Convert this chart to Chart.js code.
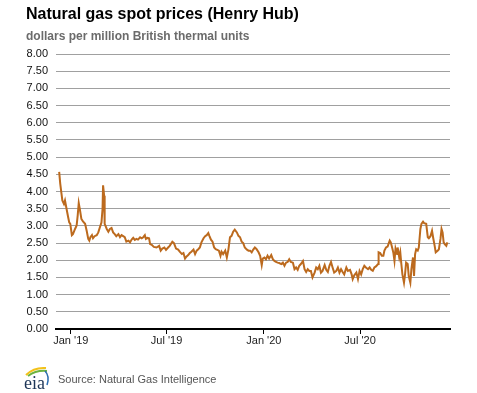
<!DOCTYPE html>
<html>
<head>
<meta charset="utf-8">
<script src="https://cdn.jsdelivr.net/npm/chart.js@4.4.0/dist/chart.umd.min.js"></script>
<style>
  html, body { margin: 0; padding: 0; background: #fff; }
  #wrap { position: relative; width: 477px; height: 393px; overflow: hidden; font-family: "Liberation Sans", Arial, sans-serif; }
  #priceChart { position: absolute; left: 0; top: 0; }
  .title { position: absolute; left: 26px; top: 5px; font-size: 16px; font-weight: bold; color: #000; white-space: nowrap; }
  .subtitle { position: absolute; left: 26px; top: 29px; font-size: 12px; font-weight: bold; color: #6b6b6b; white-space: nowrap; }
  .source { position: absolute; left: 58px; top: 373px; font-size: 11px; color: #555; white-space: nowrap; }
  .logo { position: absolute; left: 22px; top: 363px; }
</style>
</head>
<body>
<div id="wrap">
  <canvas id="priceChart" width="477" height="393"></canvas>
  <div class="title">Natural gas spot prices (Henry Hub)</div>
  <div class="subtitle">dollars per million British thermal units</div>
  <svg class="logo" width="30" height="30" viewBox="0 0 30 30">
    <path d="M4 12 Q12 4 24 5" stroke="#f2c21b" stroke-width="2" fill="none"/>
    <path d="M6 13 Q14 7 25 8" stroke="#6cb33f" stroke-width="2" fill="none"/>
    <path d="M23 8 Q28 13 25 22" stroke="#2b6cb0" stroke-width="1.5" fill="none"/>
    <text x="2" y="26" font-family="'Liberation Serif', 'DejaVu Serif', serif" font-size="18" fill="#1d3557">eia</text>
  </svg>
  <div class="source">Source: Natural Gas Intelligence</div>
</div>
<script>
// days counted from Jan 1 2019 (negative = Dec 2018)
const days = [
  -22, -20, -18, -16, -13, -11, -8, -5, -3, -1, 2, 4, 8, 11, 13, 15, 17, 20, 23, 27,
  30, 33, 35, 37, 40, 42, 45, 49, 52, 55, 58, 60, 61, 63, 64, 68, 71, 74, 77, 80,
  83, 86, 90, 93, 96, 99, 102, 105, 109, 112, 115, 118, 121, 124, 127, 131, 134, 137, 140, 142,
  145, 148, 150, 153, 157, 162, 167, 170, 173, 177, 180, 184, 187, 192, 195, 199, 203, 206, 210, 213,
  216, 219, 222, 225, 228, 232, 235, 238, 241, 244, 247, 251, 254, 257, 260, 262, 265, 268, 271, 274,
  277, 280, 283, 285, 288, 292, 295, 298, 301, 304, 307, 310, 314, 317, 320, 323, 326, 329, 333, 336,
  339, 342, 345, 348, 351, 355, 358, 361, 363, 366, 369, 372, 375, 379, 382, 385, 388, 391, 394, 398,
  401, 404, 407, 410, 413, 416, 420, 423, 426, 429, 432, 435, 439, 442, 445, 448, 451, 454, 457, 461,
  464, 467, 470, 473, 476, 480, 483, 486, 489, 492, 495, 498, 502, 505, 508, 511, 514, 517, 521, 524,
  528, 531, 533, 536, 540, 543, 546, 549, 552, 555, 558, 562, 565, 568, 571, 574, 577, 581, 582, 585,
  588, 591, 593, 596, 599, 603, 605, 608, 610, 612, 614, 617, 618, 621, 623, 625, 627, 630, 632, 634,
  637, 639, 642, 644, 647, 649, 651, 653, 656, 658, 661, 663, 666, 668, 672, 675, 677, 680, 683, 685,
  688, 690, 694, 696, 699, 701, 703, 705, 707, 710, 712
];
const prices = [
  4.57, 4.23, 3.98, 3.74, 3.64, 3.74, 3.49, 3.25, 3.10, 3.06, 2.73, 2.76, 2.91, 3.01, 3.30, 3.66, 3.49, 3.20, 3.13, 3.06,
  2.86, 2.62, 2.57, 2.67, 2.73, 2.64, 2.70, 2.73, 2.81, 2.96, 3.10, 3.49, 4.18, 3.88, 3.06, 2.91, 2.83, 2.91, 2.94, 2.81,
  2.76, 2.70, 2.76, 2.67, 2.73, 2.70, 2.67, 2.54, 2.57, 2.52, 2.60, 2.65, 2.59, 2.62, 2.60, 2.67, 2.64, 2.67, 2.73, 2.62,
  2.65, 2.64, 2.47, 2.45, 2.39, 2.37, 2.42, 2.28, 2.34, 2.37, 2.30, 2.37, 2.42, 2.54, 2.50, 2.34, 2.31, 2.25, 2.18, 2.21,
  2.05, 2.11, 2.15, 2.21, 2.25, 2.31, 2.18, 2.28, 2.32, 2.37, 2.52, 2.64, 2.70, 2.73, 2.79, 2.71, 2.60, 2.54, 2.37, 2.32,
  2.30, 2.28, 2.13, 2.25, 2.18, 2.28, 2.08, 2.31, 2.67, 2.71, 2.83, 2.89, 2.81, 2.71, 2.67, 2.54, 2.50, 2.37, 2.31, 2.28,
  2.28, 2.23, 2.31, 2.37, 2.33, 2.23, 2.13, 1.86, 2.05, 2.08, 2.03, 2.13, 2.05, 2.15, 2.03, 1.98, 1.95, 1.93, 1.92, 1.89,
  1.93, 1.84, 1.93, 1.95, 2.03, 1.95, 1.93, 1.74, 1.79, 1.72, 1.84, 1.89, 1.98, 1.74, 1.66, 1.74, 1.69, 1.69, 1.50, 1.64,
  1.79, 1.74, 1.84, 1.64, 1.69, 1.86, 1.72, 1.66, 1.84, 1.95, 1.79, 1.64, 1.69, 1.79, 1.64, 1.74, 1.66, 1.59, 1.79, 1.69,
  1.72, 1.59, 1.45, 1.56, 1.64, 1.45, 1.69, 1.59, 1.74, 1.84, 1.79, 1.74, 1.79, 1.72, 1.69, 1.79, 1.82, 1.89, 2.23, 2.21,
  2.13, 2.13, 2.28, 2.37, 2.40, 2.57, 2.52, 2.34, 2.21, 1.98, 2.34, 2.18, 2.37, 2.08, 2.23, 1.89, 1.59, 1.35, 1.59, 1.93,
  1.89, 1.54, 1.35, 1.74, 2.08, 1.54, 2.18, 2.32, 2.28, 2.37, 2.91, 3.06, 3.12, 3.08, 3.06, 2.67, 2.64, 2.70, 2.86, 2.67,
  2.42, 2.23, 2.28, 2.32, 2.62, 2.91, 2.81, 2.52, 2.47, 2.42, 2.52
];
const xTickDays = [0, 181, 365, 547];
const xTickLabels = ["Jan '19", "Jul '19", "Jan '20", "Jul '20"];

const ctx = document.getElementById("priceChart").getContext("2d");
const points = days.map((d, i) => ({ x: d, y: prices[i] }));

new Chart(ctx, {
  type: "line",
  data: {
    datasets: [{
      data: points,
      borderColor: "#bc6a1e",
      borderWidth: 2,
      pointRadius: 0,
      tension: 0,
      fill: false
    }]
  },
  options: {
    responsive: false,
    animation: false,
    layout: { padding: { left: 0, right: 27, top: 54, bottom: 0 } },
    plugins: {
      legend: { display: false },
      tooltip: { enabled: false }
    },
    scales: {
      x: {
        type: "linear",
        min: -28,
        max: 717,
        afterBuildTicks: scale => {
          scale.ticks = xTickDays.map(v => ({ value: v }));
        },
        afterFit: scale => { scale.height = 64; },
        ticks: {
          autoSkip: false,
          maxRotation: 0,
          padding: 0,
          color: "#222",
          font: { family: "'Liberation Sans', Arial, sans-serif", size: 11 },
          callback: v => xTickLabels[xTickDays.indexOf(v)] || ""
        },
        grid: { drawOnChartArea: false, drawTicks: true, tickLength: 5, color: "#000" },
        border: { display: true, color: "#000", width: 2 }
      },
      y: {
        min: 0,
        max: 8,
        afterFit: scale => { scale.width = 56; },
        ticks: {
          stepSize: 0.5,
          padding: 8,
          color: "#111",
          font: { family: "'Liberation Sans', Arial, sans-serif", size: 11 },
          callback: v => v.toFixed(2)
        },
        grid: { color: "#a0a0a0", lineWidth: 1, drawTicks: false },
        border: { display: false }
      }
    }
  }
});
</script>
</body>
</html>
